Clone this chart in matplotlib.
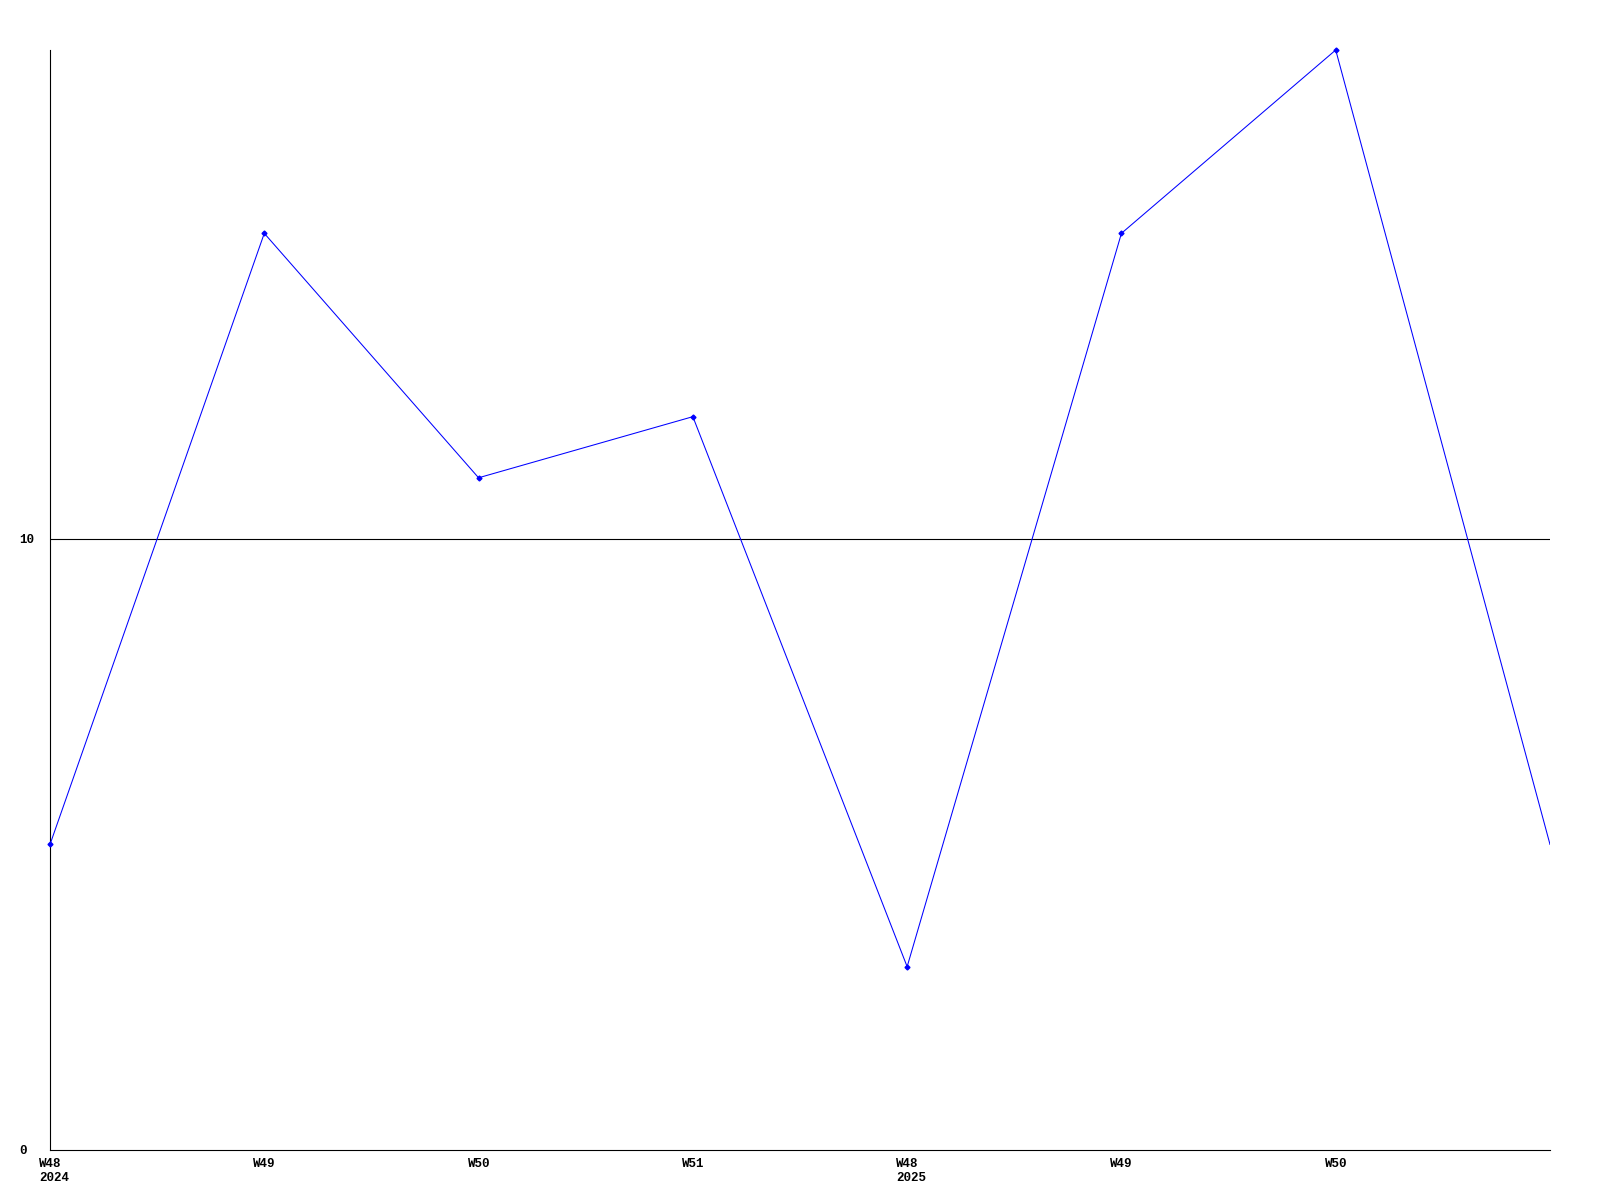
import matplotlib
matplotlib.use("Agg")
import matplotlib.pyplot as plt
from matplotlib.transforms import ScaledTranslation

# weekly counts, two seasons side by side
weeks = ["W48\n2024", "W49", "W50", "W51", "W48\n2025", "W49", "W50"]
values = [5, 15, 11, 12, 3, 15, 18, 5]
yticks = [0, 10]

plt.rcParams['font.family'] = ['Liberation Mono', 'DejaVu Sans Mono']

fig = plt.figure(figsize=(16, 12), dpi=100)
ax = fig.add_axes([50/1600, 50/1200, 1500/1600, 1100/1200])

xs = list(range(len(values)))
ax.plot(xs, values, color='#0000ff', linewidth=0.75, zorder=3)
# last point sits on the right edge with no marker
ax.plot(xs[:-1], values[:-1], linestyle='none', marker='D', markersize=2.5,
        color='#0000ff', zorder=4, clip_on=False)

ax.axhline(10, color='black', linewidth=0.8, zorder=2)

ax.set_xlim(0, len(values) - 1)
ax.set_ylim(0, max(values))

# x labels start a little left of their tick, lines left aligned
ax.set_xticks(range(len(weeks)))
ax.set_xticklabels([])
shift = ScaledTranslation(-11/100, -8/100, fig.dpi_scale_trans)
for i, w in enumerate(weeks):
    ax.text(i, 0, w, transform=ax.get_xaxis_transform() + shift,
            ha='left', va='top', fontsize=9, fontweight='bold',
            linespacing=1.2, clip_on=False)

ax.set_yticks(yticks)
ax.set_yticklabels([str(t) for t in yticks], fontsize=9, fontweight='bold',
                   ha='left')
ax.tick_params(axis='x', length=0, pad=5)
ax.tick_params(axis='y', length=0, pad=22)

for s in ['top', 'right']:
    ax.spines[s].set_visible(False)
for s in ['left', 'bottom']:
    ax.spines[s].set_linewidth(0.8)

fig.savefig("out.png", dpi=100)
